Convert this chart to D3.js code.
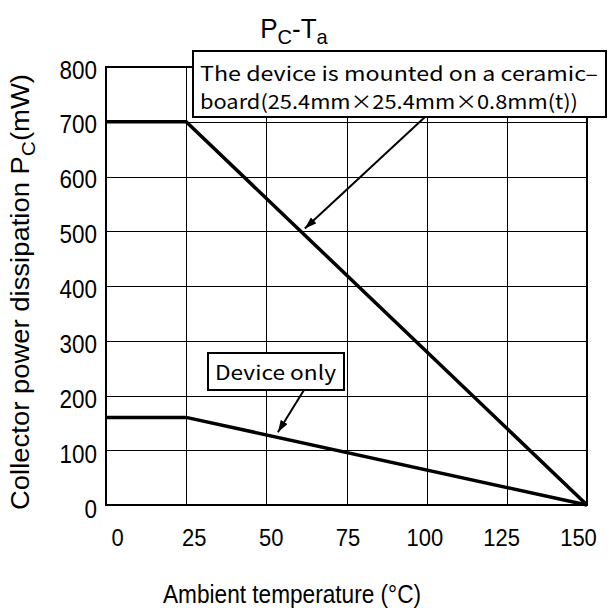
<!DOCTYPE html>
<html>
<head>
<meta charset="utf-8">
<script src="https://cdn.jsdelivr.net/npm/d3@7"></script>
<style>
  body { margin: 0; background: #fff; }
  text { font-family: Arial, "Liberation Sans", sans-serif; fill: #000; }
  .note { font-family: "Noto Sans CJK JP", "DejaVu Sans", sans-serif; }
</style>
</head>
<body>
<svg width="611" height="613"></svg>
<script>
// data
var xTicks = [0, 25, 50, 75, 100, 125, 150];
var yTicks = [0, 100, 200, 300, 400, 500, 600, 700, 800];
var temps = [0, 25, 150];
var boardPower = [700, 700, 0];
var devicePower = [160, 160, 0];

var margin = {top: 67, right: 24, bottom: 108, left: 106},
    width = 611 - margin.left - margin.right,
    height = 613 - margin.top - margin.bottom;

var svg = d3.select("svg");
var chart = svg.append("g")
    .attr("transform", "translate(" + margin.left + "," + margin.top + ")");

var x = d3.scaleLinear().domain([0, 150]).range([0, width]);
var y = d3.scaleLinear().domain([0, 800]).range([height, 0]);
// tick labels in the picture sit a little inside the grid
var xLab = d3.scaleLinear().domain([0, 150]).range([11, width - 9]);
var yLab = d3.scaleLinear().domain([0, 800]).range([height + 4, 3]);

// grid
chart.append("g")
  .selectAll("line").data(xTicks.slice(1, -1)).enter()
  .append("line")
  .attr("x1", function(d){ return Math.round(x(d)) + 0.5 })
  .attr("x2", function(d){ return Math.round(x(d)) + 0.5 })
  .attr("y1", 0).attr("y2", height)
  .attr("stroke", "#000").attr("stroke-width", 1);
chart.append("g")
  .selectAll("line").data(yTicks.slice(1, -1)).enter()
  .append("line")
  .attr("y1", function(d){ return Math.round(y(d)) + 0.5 })
  .attr("y2", function(d){ return Math.round(y(d)) + 0.5 })
  .attr("x1", 0).attr("x2", width)
  .attr("stroke", "#000").attr("stroke-width", 1);

chart.append("rect")
  .attr("width", width).attr("height", height)
  .attr("fill", "none").attr("stroke", "#000").attr("stroke-width", 2);

// axes (labels only, the frame draws the lines)
var sy = 1.12; // glyphs in the picture are a bit taller than wide
var bottomAxis = d3.axisBottom(xLab).tickValues(xTicks).tickSize(0).tickPadding(24 / sy);
var leftAxis = d3.axisLeft(yLab).tickValues(yTicks).tickSize(0).tickPadding(9);

chart.append("g")
  .attr("transform", "translate(0," + height + ")")
  .call(bottomAxis)
  .call(function(g){ g.select(".domain").remove() })
  .selectAll("text")
  .attr("transform", "scale(1," + sy + ")")
  .style("font-size", "22px").style("font-family", "Arial, 'Liberation Sans', sans-serif");

chart.append("g")
  .call(leftAxis)
  .call(function(g){ g.select(".domain").remove() })
  .selectAll("text")
  .attr("transform", "scale(1," + sy + ")")
  .style("font-size", "22.5px").style("font-family", "Arial, 'Liberation Sans', sans-serif");

// curves
var line = d3.line()
  .x(function(d){ return x(d[0]) })
  .y(function(d){ return y(d[1]) });

[boardPower, devicePower].forEach(function(p){
  chart.append("path")
    .datum(temps.map(function(t, i){ return [t, p[i]] }))
    .attr("d", line)
    .attr("fill", "none")
    .attr("stroke", "#000")
    .attr("stroke-width", 3.5)
    .attr("stroke-linejoin", "miter");
});

// arrow marker
svg.append("defs").append("marker")
  .attr("id", "head")
  .attr("viewBox", "0 0 12 8")
  .attr("refX", 12).attr("refY", 4)
  .attr("markerWidth", 6).attr("markerHeight", 4)
  .attr("markerUnits", "strokeWidth")
  .attr("orient", "auto")
  .append("path").attr("d", "M0,0 L12,4 L0,8 Z").attr("fill", "#000");

// annotation: ceramic board
chart.append("line")
  .attr("x1", 425 - margin.left).attr("y1", 117 - margin.top)
  .attr("x2", x(62)).attr("y2", y(505))
  .attr("stroke", "#000").attr("stroke-width", 2)
  .attr("marker-end", "url(#head)");

svg.append("rect")
  .attr("x", 193).attr("y", 51).attr("width", 413).attr("height", 66)
  .attr("fill", "#fff").attr("stroke", "#000").attr("stroke-width", 2);
svg.append("text").attr("class", "note")
  .attr("transform", "translate(200,81) scale(1,1.1)")
  .attr("textLength", 398).attr("lengthAdjust", "spacingAndGlyphs")
  .style("font-size", "18px")
  .text("The device is mounted on a ceramic\u2013");
svg.append("text").attr("class", "note")
  .attr("transform", "translate(200,109) scale(1,1.1)")
  .attr("textLength", 378).attr("lengthAdjust", "spacingAndGlyphs")
  .style("font-size", "18px")
  .text("board(25.4mm\u00d725.4mm\u00d70.8mm(t))");

// annotation: device only
chart.append("line")
  .attr("x1", 304 - margin.left).attr("y1", 390 - margin.top)
  .attr("x2", x(53.6)).attr("y2", y(133))
  .attr("stroke", "#000").attr("stroke-width", 2)
  .attr("marker-end", "url(#head)");

svg.append("rect")
  .attr("x", 208).attr("y", 353).attr("width", 136).attr("height", 37)
  .attr("fill", "#fff").attr("stroke", "#000").attr("stroke-width", 2);
svg.append("text").attr("class", "note")
  .attr("transform", "translate(215,380) scale(1,1.1)")
  .attr("textLength", 121).attr("lengthAdjust", "spacingAndGlyphs")
  .style("font-size", "18px")
  .text("Device only");

// title
var title = svg.append("text")
  .attr("transform", "translate(294,38) scale(1,1.05)")
  .attr("text-anchor", "middle")
  .style("font-size", "26px");
title.append("tspan").text("P");
title.append("tspan").attr("dy", 6).style("font-size", "20px").text("C");
title.append("tspan").attr("dy", -6).text("-T");
title.append("tspan").attr("dy", 6).style("font-size", "20px").text("a");

// axis titles
svg.append("text")
  .attr("transform", "translate(292,603) scale(1,1.15)")
  .attr("text-anchor", "middle")
  .attr("textLength", 258).attr("lengthAdjust", "spacingAndGlyphs")
  .style("font-size", "22.5px")
  .text("Ambient temperature (\u00b0C)");

var ylab = svg.append("text")
  .attr("transform", "translate(29,292) rotate(-90)")
  .attr("text-anchor", "middle")
  .attr("textLength", 436).attr("lengthAdjust", "spacingAndGlyphs")
  .style("font-size", "25px");
ylab.append("tspan").text("Collector power dissipation P");
ylab.append("tspan").attr("dy", 6).style("font-size", "19px").text("C");
ylab.append("tspan").attr("dy", -6).text("(mW)");
</script>
</body>
</html>
